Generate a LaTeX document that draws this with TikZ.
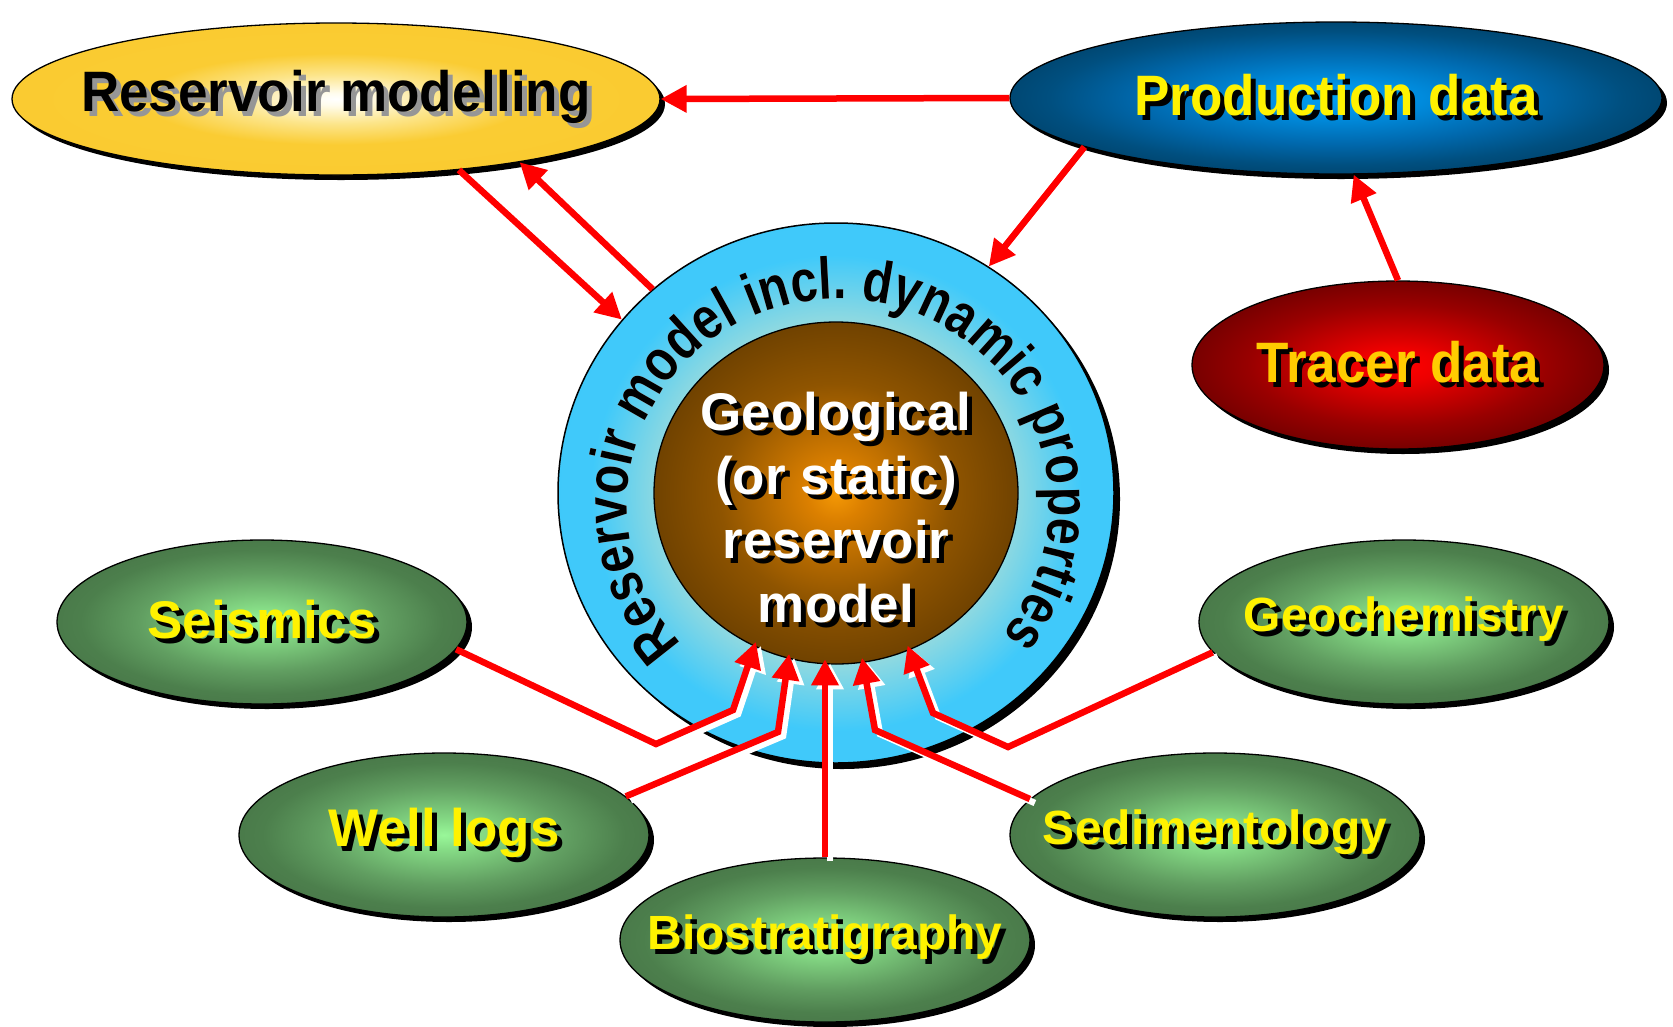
\documentclass[tikz,border=0pt]{standalone}
\usepackage{fontspec}
\setmainfont{Liberation Sans}
\newfontfamily\condfam{Liberation Sans}[FakeStretch=0.93]
\newfontfamily\ringfam{Liberation Sans}[FakeStretch=0.82]
\usetikzlibrary{shapes.geometric,arrows.meta,shadows,decorations.text}

% the path bounding box is mapped to the central 50bp square of each shading (edge = 25bp)
\pgfdeclareradialshading{goldsh}{\pgfpoint{0bp}{0bp}}{rgb(0bp)=(1,1,1); rgb(2bp)=(1,0.99,0.93); rgb(8bp)=(0.99,0.9,0.55); rgb(15bp)=(0.98,0.8,0.2); rgb(50bp)=(0.98,0.79,0.17)}
\pgfdeclareradialshading{bluesh}{\pgfpoint{0bp}{0bp}}{rgb(0bp)=(0,0.62,0.95); rgb(5bp)=(0,0.57,0.9); rgb(15bp)=(0,0.41,0.68); rgb(22bp)=(0,0.31,0.5); rgb(25bp)=(0,0.28,0.45); rgb(50bp)=(0,0.28,0.45)}
\pgfdeclareradialshading{redsh}{\pgfpoint{0bp}{0bp}}{rgb(0bp)=(1,0,0); rgb(5bp)=(0.93,0,0); rgb(18bp)=(0.6,0,0); rgb(25bp)=(0.47,0,0); rgb(50bp)=(0.47,0,0)}
\pgfdeclareradialshading{greensh}{\pgfpoint{0bp}{0bp}}{rgb(0bp)=(0.6,0.97,0.6); rgb(4bp)=(0.53,0.87,0.53); rgb(15bp)=(0.38,0.62,0.38); rgb(22bp)=(0.3,0.5,0.3); rgb(25bp)=(0.29,0.48,0.29); rgb(50bp)=(0.29,0.48,0.29)}
\pgfdeclareradialshading{ringsh}{\pgfpoint{0bp}{0bp}}{rgb(0bp)=(0.6,0.85,0.85); rgb(16bp)=(0.56,0.85,0.88); rgb(22bp)=(0.25,0.79,0.98); rgb(50bp)=(0.24,0.79,0.98)}
\pgfdeclareradialshading{brownsh}{\pgfpoint{0bp}{0bp}}{rgb(0bp)=(0.96,0.6,0.02); rgb(4bp)=(0.86,0.5,0); rgb(16bp)=(0.56,0.33,0); rgb(25bp)=(0.44,0.26,0); rgb(50bp)=(0.44,0.26,0)}

\definecolor{goldtxt}{RGB}{255,204,0}
\definecolor{shgray}{RGB}{150,150,150}

\newcommand\shtx[2]{\leavevmode\rlap{\hspace*{5pt}\raisebox{-5pt}{\textcolor{#1}{#2}}}#2}
\newcommand\ringfont{\ringfam\fontsize{59}{59}\selectfont\bfseries}

\tikzset{
  bub/.style={ellipse, draw=black, line width=1.3pt, inner sep=0pt,
    drop shadow={shadow xshift=5pt, shadow yshift=-5pt, fill=black, opacity=1}},
  top/.style={font=\condfam\fontsize{57}{64}\selectfont\bfseries},
  big/.style={font=\fontsize{53}{60}\selectfont\bfseries},
  small/.style={font=\fontsize{48}{55}\selectfont\bfseries},
  arr/.style={draw=red, line width=6.5pt, line join=miter,
    -{Triangle[length=26pt,width=26pt]}},
  arrsh/.style={arr, draw=white, transform canvas={xshift=5pt,yshift=-4pt}},
}

\begin{document}
\begin{tikzpicture}[x=1pt,y=1pt]
\fill[white] (0,0) rectangle (1673,-1026);
\useasboundingbox (0,0) rectangle (1673,-1026);

% top ellipses
\node[bub, shading=goldsh, minimum width=648, minimum height=152, top, text=black]
  (resm) at (336,-99) {\makebox[0pt]{\shtx{shgray}{Reservoir modelling}}};
\node[bub, shading=bluesh, minimum width=652, minimum height=152, top, text=yellow]
  (prod) at (1336,-98) {\makebox[0pt]{\shtx{black}{Production data}}};
\node[bub, shading=redsh, minimum width=412, minimum height=168, top, text=goldtxt]
  (tracer) at (1398,-365) {\makebox[0pt]{\shtx{black}{Tracer data}}};

% green ellipses
\node[bub, shading=greensh, minimum width=410, minimum height=164, big, text=yellow]
  (seis) at (262,-622) {\makebox[0pt]{\shtx{black}{Seismics}}};
\node[bub, shading=greensh, minimum width=410, minimum height=164, big, text=yellow]
  (well) at (444,-835) {\makebox[0pt]{\shtx{black}{Well logs}}};
\node[bub, shading=greensh, minimum width=410, minimum height=164, small, text=yellow]
  (bio) at (825,-940) {\makebox[0pt]{\shtx{black}{Biostratigraphy}}};
\node[bub, shading=greensh, minimum width=410, minimum height=164, small, text=yellow]
  (sed) at (1215,-835) {\makebox[0pt]{\shtx{black}{Sedimentology}}};
\node[bub, shading=greensh, minimum width=410, minimum height=164, small, text=yellow]
  (geo) at (1404,-622) {\makebox[0pt]{\shtx{black}{Geochemistry}}};

% central ring and core
\node[ellipse, draw=black, line width=1.5pt, inner sep=0pt, shading=ringsh,
  minimum width=556, minimum height=540,
  drop shadow={shadow xshift=6pt, shadow yshift=-6pt, fill=black, opacity=1}]
  (ring) at (836,-493) {};
\node[ellipse, draw=black, line width=1.3pt, inner sep=0pt, shading=brownsh,
  minimum width=364, minimum height=342] (core) at (836,-493) {};

% ring text
\coordinate (tc) at (838,-505);
\path[decorate, transform canvas={xshift=4pt,yshift=-4pt},
  decoration={text along path, text align=center,
    text={|\ringfont\color{white}|Reservoir model incl. dynamic properties}}]
  (tc) ++(226:211pt and 206pt)
  arc[start angle=226, end angle=-42.6, x radius=211pt, y radius=206pt];
\path[decorate,
  decoration={text along path, text align=center,
    text={|\ringfont\color{black}|Reservoir model incl. dynamic properties}}]
  (tc) ++(226:211pt and 206pt)
  arc[start angle=226, end angle=-42.6, x radius=211pt, y radius=206pt];

% core text
\node[font=\fontsize{53}{64}\selectfont\bfseries, text=white, align=center, inner sep=0pt]
  (coretxt) at (836,-510)
  {\shtx{black}{Geological}\\\shtx{black}{(or static)}\\\shtx{black}{reservoir}\\\shtx{black}{model}};

% connectors at top
\draw[arr] (prod.west) -- (resm.east);
\draw[arr] (resm.-30) -- (ring.141);
\draw[arr] (ring.132) -- (resm.-19);
\draw[arr] (prod.191) -- (ring.56);
\draw[arr] (tracer.north) -- (prod.-77);

% bends
\coordinate (s1) at (656,-744);
\coordinate (s2) at (733,-710);
\coordinate (w1) at (778,-732);
\coordinate (d1) at (875,-730);
\coordinate (g1) at (1008,-747);
\coordinate (g2) at (933,-713);

% shadows of bottom connectors
\draw[arrsh, shorten >=-5pt] (seis.-8) -- (s1) -- (s2) -- (core.242);
\draw[arrsh, shorten >=-5pt] (well.12) -- (w1) -- (core.254);
\draw[arrsh, shorten >=-5pt] (bio.north) -- (bio.north |- core.266);
\draw[arrsh, shorten >=-5pt] (sed.169) -- (d1) -- (core.279);
\draw[arrsh, shorten >=-5pt] (geo.189) -- (g1) -- (g2) -- (core.295);

% bottom connectors
\draw[arr, shorten >=-5pt] (seis.-8) -- (s1) -- (s2) -- (core.242);
\draw[arr, shorten >=-5pt] (well.12) -- (w1) -- (core.254);
\draw[arr, shorten >=-5pt] (bio.north) -- (bio.north |- core.266);
\draw[arr, shorten >=-5pt] (sed.169) -- (d1) -- (core.279);
\draw[arr, shorten >=-5pt] (geo.189) -- (g1) -- (g2) -- (core.295);
\end{tikzpicture}
\end{document}
